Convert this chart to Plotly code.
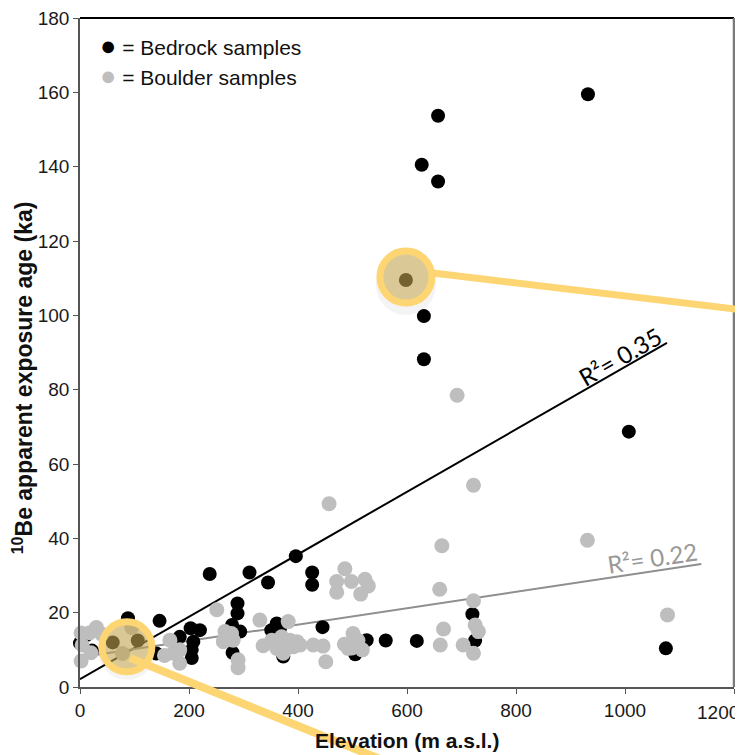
import plotly.graph_objects as go

# ---------------- data ----------------
bedrock_elev = [932, 657, 627, 657, 631, 631, 598, 1007, 1075,
                396, 238, 311, 345, 426, 426,
                88, 146, 289, 289, 279, 294, 220, 183, 203, 208, 205, 205, 280, 351, 361, 367, 373, 445,
                0, 12, 22, 60, 106, 140, 505, 526, 561, 618, 720, 725]
bedrock_age = [159.5, 153.7, 140.5, 136, 99.8, 88.2, 109.5, 68.7, 10.4,
               35.2, 30.4, 30.8, 28.1, 30.8, 27.5,
               18.5, 17.8, 22.5, 19.8, 16.7, 14.9, 15.3, 13.5, 15.8, 12.2, 10, 7.8, 9.2, 15.3, 17.1, 15.8, 8.2, 16.1,
               11.8, 14, 9.8, 12, 12.5, 9, 8.8, 12.6, 12.5, 12.4, 19.6, 12.5]

boulder_elev = [692, 457, 722, 664, 931, 1078,
                486, 471, 498, 523, 529, 471, 515, 660, 722, 251,
                330, 382, 266, 278, 281, 263, 290, 290, 336, 352, 361, 379, 391, 398, 373, 385, 370, 404, 428,
                446, 451, 501, 492, 485, 499, 510, 518,
                661, 667, 703, 725, 731, 722,
                2, 18, 30, 40, 4, 2, 20, 165, 171, 183, 183, 155, 95, 78]
boulder_age = [78.5, 49.3, 54.3, 38, 39.5, 19.4,
               31.8, 28.4, 28.4, 29, 27.2, 25.5, 25, 26.3, 23.2, 20.8,
               18, 17.6, 14.9, 14.4, 12.6, 12.2, 7.3, 5.2, 11.1, 12.6, 10.4, 11.7, 10.8, 12.2, 9.1, 12.6, 13.5, 11.3, 11.3,
               11, 6.8, 14.4, 10.4, 11.5, 10.5, 12.5, 10,
               11.3, 15.6, 11.3, 16.7, 14.9, 9.1,
               14.5, 14.6, 16, 14.2, 11.3, 7, 9.2, 12.6, 9.1, 10, 6.4, 8.5, 16, 9]

# regression line end points
bedrock_fit_x = [0, 1077]
bedrock_fit_y = [2.1, 92.6]
boulder_fit_x = [0, 1140]
boulder_fit_y = [8.0, 33.1]

r2_labels = ["R²= 0.35", "R²= 0.22"]
r2_pos_x = [991, 1051]
r2_pos_y = [88.8, 34.8]

legend_labels = ["= Bedrock samples", "= Boulder samples"]

x_ticks = [0, 200, 400, 600, 800, 1000, 1200]
x_ticktext = ["0", "200", "400", "600", "800", "1000", ""]   # last label placed inside the page below
last_x_label = "1200"
y_ticks = [0, 20, 40, 60, 80, 100, 120, 140, 160, 180]
x_range = [0, 1200]
y_range = [0, 180]

# highlighted (call-out) points
callout_x = [598, 86]
callout_y = [109.5, 10.8]

# ---------------- styles ----------------
BLACK = "#000000"
GREY = "#bebebe"
FONT = "Liberation Sans, Arial, sans-serif"
YELLOW = "#fdd572"
TICKFONT = dict(family=FONT, size=19, color="#1a1a1a")

fig = go.Figure()

fig.add_trace(go.Scatter(x=bedrock_fit_x, y=bedrock_fit_y, mode="lines",
                         line=dict(color="#000000", width=2), showlegend=False, hoverinfo="skip"))
fig.add_trace(go.Scatter(x=boulder_fit_x, y=boulder_fit_y, mode="lines",
                         line=dict(color="#8f8f8f", width=2), showlegend=False, hoverinfo="skip"))

fig.add_trace(go.Scatter(x=bedrock_elev, y=bedrock_age, mode="markers", name=legend_labels[0],
                         marker=dict(color=BLACK, size=14, line=dict(width=0)), cliponaxis=False,
                         showlegend=False))
fig.add_trace(go.Scatter(x=boulder_elev, y=boulder_age, mode="markers", name=legend_labels[1],
                         marker=dict(color=GREY, size=15, line=dict(width=0)), cliponaxis=False,
                         showlegend=False))

# key (legend) as text
for i, (lab, col) in enumerate(zip(legend_labels, [BLACK, GREY])):
    fig.add_annotation(xref="paper", yref="paper", x=0.027, y=[0.958, 0.914][i],
                       text=f"<span style='color:{col};font-size:27px'>●</span> {lab}",
                       showarrow=False, xanchor="left", yanchor="middle",
                       font=dict(family=FONT, size=21, color="#111111"))

# R² labels
for txt, xx, yy, ang, col in zip(r2_labels, r2_pos_x, r2_pos_y, [-30, -8.5], ["#000000", "#999999"]):
    fig.add_annotation(x=xx, y=yy, text=txt, showarrow=False, textangle=ang,
                       xanchor="center", yanchor="middle",
                       font=dict(family="Lato, Open Sans, sans-serif", size=24, color=col))

# last x tick label, kept inside the page like the reference
fig.add_annotation(x=x_ticks[-1], xref="x", yref="paper", y=0, text=last_x_label, showarrow=False,
                   xanchor="right", yanchor="middle", xshift=7, yshift=-25, font=TICKFONT)

# axis titles
fig.add_annotation(xref="paper", yref="paper", x=0.5, y=-0.0807, text="Elevation (m a.s.l.)",
                   showarrow=False, xanchor="center", yanchor="middle",
                   font=dict(family=FONT, size=21, color="#111111", weight="bold"))
fig.add_annotation(xref="paper", yref="paper", x=-0.0880, y=0.462,
                   text="<sup>10</sup>Be apparent exposure age (ka)", textangle=-90,
                   showarrow=False, xanchor="center", yanchor="middle",
                   font=dict(family=FONT, size=23, color="#111111", weight="bold"))

shapes = []
# top & right plot border
shapes.append(dict(type="line", xref="paper", yref="paper", x0=0, x1=1, y0=1, y1=1,
                   line=dict(color="#000000", width=2)))
shapes.append(dict(type="line", xref="paper", yref="paper", x0=1, x1=1, y0=0, y1=1,
                   line=dict(color="#7a7a7a", width=2.5)))

def dom_x(v):
    return (v - x_range[0]) / (x_range[1] - x_range[0])

def dom_y(v):
    return (v - y_range[0]) / (y_range[1] - y_range[0])

# upper call-out: line then circle
ax0, ay0 = dom_x(callout_x[0]), dom_y(callout_y[0])
shapes.append(dict(type="line", xref="paper", yref="paper", xsizemode="pixel", ysizemode="pixel",
                   xanchor=ax0, yanchor=ay0, x0=27, y0=7, x1=354, y1=-32,
                   line=dict(color=YELLOW, width=7)))
shapes.append(dict(type="circle", xref="paper", yref="paper", xsizemode="pixel", ysizemode="pixel",
                   xanchor=ax0, yanchor=ay0, x0=-30, x1=30, y0=-35, y1=25,
                   fillcolor="rgba(0,0,0,0.045)", line=dict(width=0)))
shapes.append(dict(type="circle", xref="paper", yref="paper", xsizemode="pixel", ysizemode="pixel",
                   xanchor=ax0, yanchor=ay0, x0=-26, x1=26, y0=-23, y1=29,
                   fillcolor="rgba(200,168,82,0.58)", line=dict(color=YELLOW, width=7)))

# lower call-out: circle then line
ax1, ay1 = dom_x(callout_x[1]), dom_y(callout_y[1])
shapes.append(dict(type="circle", xref="paper", yref="paper", xsizemode="pixel", ysizemode="pixel",
                   xanchor=ax1, yanchor=ay1, x0=-29, x1=29, y0=-33, y1=25,
                   fillcolor="rgba(0,0,0,0.045)", line=dict(width=0)))
shapes.append(dict(type="circle", xref="paper", yref="paper", xsizemode="pixel", ysizemode="pixel",
                   xanchor=ax1, yanchor=ay1, x0=-25, x1=25, y0=-25, y1=25,
                   fillcolor="rgba(200,168,82,0.58)", line=dict(color=YELLOW, width=7)))
shapes.append(dict(type="line", xref="paper", yref="paper", xsizemode="pixel", ysizemode="pixel",
                   xanchor=ax1, yanchor=ay1, x0=3, y0=-11, x1=270, y1=-119,
                   line=dict(color=YELLOW, width=8)))

# page is offset by the 8px body margin, so the figure is 8px smaller
fig.update_layout(
    width=735, height=747,
    margin=dict(l=72, r=9, t=10, b=68, autoexpand=False),
    paper_bgcolor="white", plot_bgcolor="white",
    shapes=shapes,
    showlegend=False,
    xaxis=dict(range=x_range, tickvals=x_ticks, ticktext=x_ticktext, showgrid=False, zeroline=False,
               showline=True, linecolor="#555555", linewidth=1.5,
               ticks="outside", ticklen=5, tickcolor="#555555", tickwidth=1.2,
               ticklabeloverflow="allow", automargin=False, tickfont=TICKFONT),
    yaxis=dict(range=y_range, tickvals=y_ticks, showgrid=False, zeroline=False,
               showline=True, linecolor="#555555", linewidth=1.5,
               ticks="outside", ticklen=5, tickcolor="#555555", tickwidth=1.2,
               ticklabeloverflow="allow", automargin=False, tickfont=TICKFONT),
)

fig.write_html("out.html")
